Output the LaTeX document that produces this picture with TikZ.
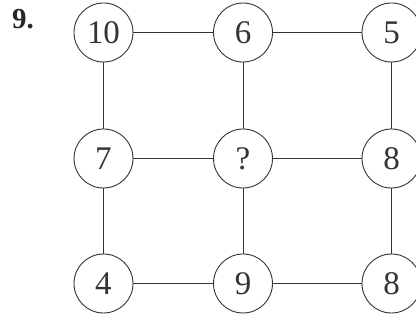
\documentclass[tikz,border=0pt]{standalone}
\usepackage{fontspec}
\setmainfont{Liberation Serif}
\begin{document}
\begin{tikzpicture}[x=1pt,y=-1pt,
  numcirc/.style={circle,draw=black!80,line width=0.9pt,minimum size=59pt,inner sep=0pt,font=\fontsize{33}{33}\selectfont,text=black!80},
  link/.style={draw=black!80,line width=0.9pt}]
\useasboundingbox (0,0) rectangle (416,320);
\node[font=\bfseries\fontsize{29}{29}\selectfont,text=black!85,anchor=base west,inner sep=0pt] (lbl) at (12,29) {9.};
\node[numcirc] (a1) at (103.5,32.5) {10};
\node[numcirc] (a2) at (243,32.5) {6};
\node[numcirc] (a3) at (391.5,32.5) {5};
\node[numcirc] (b1) at (103.5,158.5) {7};
\node[numcirc] (b2) at (243,158.5) {?};
\node[numcirc] (b3) at (391.5,158.5) {8};
\node[numcirc] (c1) at (103.5,283.5) {4};
\node[numcirc] (c2) at (243,283.5) {9};
\node[numcirc] (c3) at (391.5,283.5) {8};
\draw[link] (a1) -- (a2); \draw[link] (a2) -- (a3);
\draw[link] (b1) -- (b2); \draw[link] (b2) -- (b3);
\draw[link] (c1) -- (c2); \draw[link] (c2) -- (c3);
\draw[link] (a1) -- (b1); \draw[link] (b1) -- (c1);
\draw[link] (a2) -- (b2); \draw[link] (b2) -- (c2);
\draw[link] (a3) -- (b3); \draw[link] (b3) -- (c3);
\end{tikzpicture}
\end{document}
